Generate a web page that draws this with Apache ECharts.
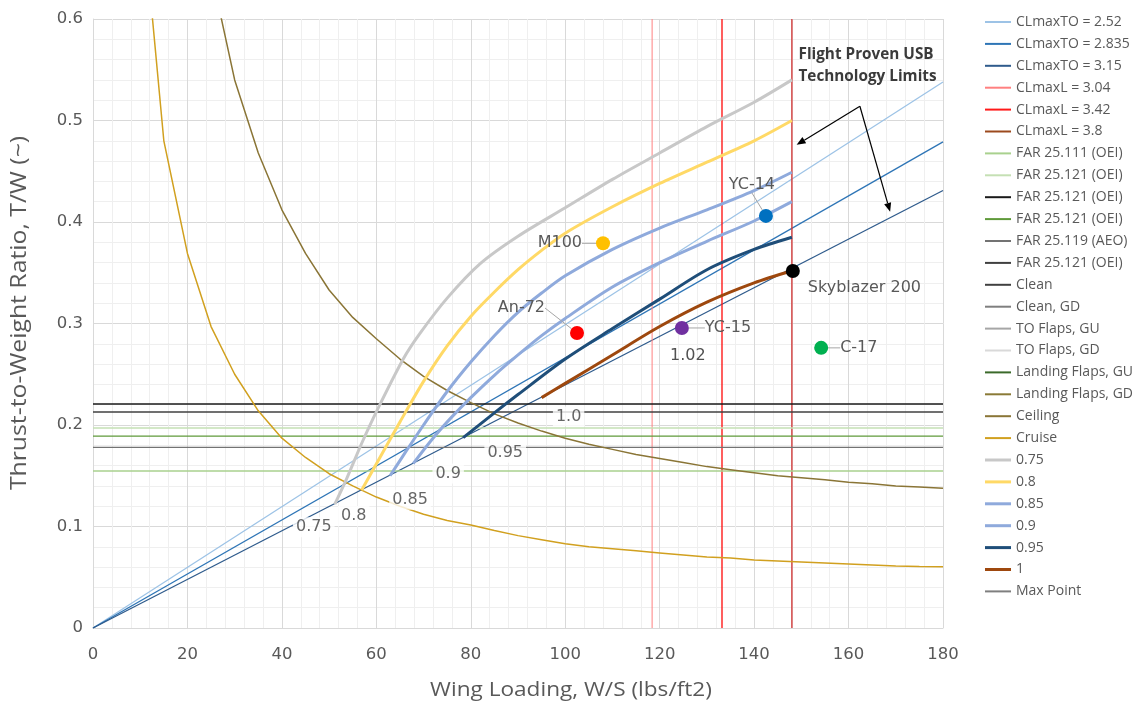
<!DOCTYPE html>
<html>
<head>
<meta charset="utf-8">
<script src="https://cdn.jsdelivr.net/npm/echarts@6/dist/echarts.min.js"></script>
<style>
  html, body { margin: 0; padding: 0; background: #ffffff; }
  #chart { width: 1134px; height: 709px; }
</style>
</head>
<body>
<div id="chart"></div>
<script>
// Constraint diagram: thrust-to-weight ratio against wing loading

// Take-off field length lines (straight through the origin), T/W reached at W/S = 180
const takeoffNames = ['CLmaxTO = 2.52', 'CLmaxTO = 2.835', 'CLmaxTO = 3.15'];
const takeoffTWAt180 = [0.538, 0.479, 0.431];

// Landing field length limits (vertical lines), W/S
const landingNames = ['CLmaxL = 3.04', 'CLmaxL = 3.42', 'CLmaxL = 3.8'];
const landingWS = [118.4, 133.2, 148.0];

// Climb gradient requirements (horizontal lines), T/W
const climbNames = ['FAR 25.111 (OEI)', 'FAR 25.121 (OEI)', 'FAR 25.121 (OEI)',
                    'FAR 25.121 (OEI)', 'FAR 25.119 (AEO)', 'FAR 25.121 (OEI)'];
const climbTW = [0.1547, 0.197, 0.2207, 0.189, 0.178, 0.2128];

// Configurations listed in the key without a plotted line
const configNames = ['Clean', 'Clean, GD', 'TO Flaps, GU', 'TO Flaps, GD',
                     'Landing Flaps, GU', 'Landing Flaps, GD'];

// Service ceiling
const ceilingWS = [25, 30, 35, 40, 45, 50, 55, 60, 65, 70, 75, 80, 85, 90, 95, 100,
                   105, 110, 115, 120, 125, 130, 135, 140, 145, 150, 155, 160, 165, 170, 175, 180];
const ceilingTW = [0.647, 0.54, 0.468, 0.412, 0.369, 0.333, 0.306, 0.285, 0.265, 0.248,
                   0.234, 0.222, 0.211, 0.202, 0.194, 0.187, 0.181, 0.176, 0.171, 0.167,
                   0.163, 0.159, 0.156, 0.153, 0.150, 0.148, 0.146, 0.1435, 0.142, 0.140,
                   0.139, 0.1376];

// Cruise
const cruiseWS = [10, 15, 20, 25, 30, 35, 40, 45, 50, 55, 60, 65, 70, 75, 80, 85, 90, 95,
                  100, 105, 110, 115, 120, 125, 130, 135, 140, 145, 150, 155, 160, 165, 170, 175, 180];
const cruiseTW = [0.73, 0.48, 0.369, 0.297, 0.25, 0.214, 0.187, 0.168, 0.152, 0.140, 0.129,
                  0.120, 0.112, 0.106, 0.1015, 0.096, 0.091, 0.087, 0.083, 0.080, 0.078,
                  0.076, 0.074, 0.072, 0.070, 0.069, 0.067, 0.066, 0.065, 0.064, 0.063,
                  0.062, 0.061, 0.0605, 0.0604];

// USB technology curves, [W/S, T/W]
const machNames = ['0.75', '0.8', '0.85', '0.9', '0.95', '1'];
const machTags  = ['0.75', '0.8', '0.85', '0.9', '0.95', '1.0'];
const usb075 = [[51.2, 0.122], [53.7, 0.147], [57, 0.183], [60, 0.213], [65.7, 0.265], [69.2, 0.29],
                [75, 0.325], [82, 0.359], [90, 0.386], [100, 0.414], [110, 0.442], [120, 0.468],
                [130, 0.494], [140, 0.518], [148, 0.54]];
const usb080 = [[56.9, 0.136], [61, 0.17], [65, 0.203], [70, 0.243], [75, 0.278], [80, 0.307],
                [85, 0.331], [90, 0.353], [95, 0.372], [100, 0.389], [110, 0.415], [120, 0.438],
                [130, 0.459], [140, 0.48], [148, 0.5]];
const usb085 = [[62.9, 0.150], [66, 0.172], [70, 0.2], [75, 0.233], [80, 0.262], [85, 0.288],
                [90, 0.311], [95, 0.330], [100, 0.347], [110, 0.373], [120, 0.394], [130, 0.412],
                [140, 0.431], [148, 0.449]];
const usb090 = [[67.8, 0.162], [72, 0.187], [76, 0.208], [80, 0.227], [85, 0.249], [90, 0.269],
                [95, 0.288], [100, 0.305], [110, 0.336], [120, 0.36], [130, 0.381], [140, 0.401],
                [148, 0.42]];
const usb095 = [[78.4, 0.1875], [85, 0.212], [90, 0.23], [100, 0.265], [110, 0.295], [120, 0.324],
                [130, 0.353], [140, 0.373], [148, 0.385]];
const usb100 = [[95, 0.227], [100, 0.241], [110, 0.269], [120, 0.297], [130, 0.321],
                [140, 0.34], [148, 0.352]];
const machCurves = [usb075, usb080, usb085, usb090, usb095, usb100];

// Reference aircraft
const aircraftNames = ['M100', 'An-72', 'YC-15', 'YC-14', 'Skyblazer 200', 'C-17'];
const aircraftWS = [108, 102.5, 124.7, 142.5, 148.2, 154.2];
const aircraftTW = [0.379, 0.2906, 0.2956, 0.406, 0.3517, 0.276];
const yc15Note = '1.02';

// ---------- styling ----------
const takeoffColors = ['#9dc3e6', '#2e75b6', '#2f5b8c'];
const landingColors = ['#ff8080', '#ff1a1a', '#d03a3a'];
const climbColors = ['#a9d18e', '#c5e0b4', '#1a1a1a', '#5f9a3a', '#737373', '#404040'];
const configColors = ['#404040', '#7f7f7f', '#a6a6a6', '#d9d9d9', '#3b6a2a', '#8a7a36'];
const machColors = ['#c8c8c8', '#ffd966', '#8faadc', '#8faadc', '#1f4e79', '#9e480e'];
const aircraftColors = ['#ffc000', '#ff0000', '#7030a0', '#0070c0', '#000000', '#00b050'];
const aircraftLabelPos = ['left', 'left', 'right', 'top', 'right', 'right'];
const aircraftLabelDist = [5, 5, 16, 5, 5, 12];
// label shifts for the six aircraft, then the note under YC-15
const aircraftShift = [[-9, 0], [-20, -25], [0, 0], [-14, -11], [3, 17], [0, 0], [6, 28]];
const aircraftLeader = [true, true, true, true, false, true];
const machTagOffset = [[-21, 23], [-8, 26], [20, 24], [35, 10], [42, 15], [27, 19]];

const TEXT = '#595959';
const LABEL_FONT = 'DejaVu Sans';
const UI_FONT = 'Open Sans';
const KEY_THIN = 'path://M0,0H26V2H0Z';
const KEY_THICK = 'path://M0,0H26V3H0Z';

// Repeated legend names get trailing spaces so each key entry keeps its own colour
function uniqueNames(names) {
  const seen = {};
  return names.map(n => {
    seen[n] = (seen[n] || 0) + 1;
    return n + ' '.repeat(seen[n] - 1);
  });
}
const climbKeys = uniqueNames(climbNames);

const series = [];
const legendData = [];

function lineSeries(name, data, color, width, extra) {
  return Object.assign({
    name: name,
    type: 'line',
    data: data,
    symbol: 'none',
    showSymbol: false,
    silent: true,
    animation: false,
    lineStyle: { color: color, width: width },
    itemStyle: { color: color },
    z: 2
  }, extra || {});
}
function keyEntry(name, icon, color) {
  const e = { name: name, icon: icon };
  if (color) e.itemStyle = { color: color };
  return e;
}

takeoffNames.forEach((n, i) => {
  series.push(lineSeries(n, [[0, 0], [180, takeoffTWAt180[i]]], takeoffColors[i], 1.3));
  legendData.push(keyEntry(n, KEY_THIN));
});
landingNames.forEach((n, i) => {
  series.push(lineSeries(n, [[landingWS[i], 0], [landingWS[i], 0.6]], landingColors[i], i === 0 ? 1 : 1.4));
  legendData.push(keyEntry(n, KEY_THIN, i === 2 ? '#9c4a1e' : null));
});
climbKeys.forEach((n, i) => {
  series.push(lineSeries(n, [[0, climbTW[i]], [180, climbTW[i]]], climbColors[i], 1.4));
  legendData.push(keyEntry(n, KEY_THIN));
});
configNames.forEach((n, i) => {
  series.push(lineSeries(n, [], configColors[i], 1.4));
  legendData.push(keyEntry(n, KEY_THIN));
});
series.push(lineSeries('Ceiling', ceilingWS.map((x, i) => [x, ceilingTW[i]]), '#8a7536', 1.5));
legendData.push(keyEntry('Ceiling', KEY_THIN));
series.push(lineSeries('Cruise', cruiseWS.map((x, i) => [x, cruiseTW[i]]), '#d1a01f', 1.5));
legendData.push(keyEntry('Cruise', KEY_THIN));
machNames.forEach((n, i) => {
  series.push(lineSeries(n, machCurves[i], machColors[i], 3, { smooth: 0.3, z: 3 }));
  legendData.push(keyEntry(n, KEY_THICK));
});
series.push(lineSeries('Max Point', [], '#7f7f7f', 1.4));
legendData.push(keyEntry('Max Point', KEY_THIN));

// Curve tags sitting at the start of each USB curve
series.push({
  name: 'curve tags',
  type: 'scatter',
  silent: true,
  animation: false,
  z: 6,
  symbolSize: 2,
  itemStyle: { color: 'rgba(0,0,0,0)' },
  data: machCurves.map((c, i) => ({
    value: c[0],
    label: {
      show: true,
      position: 'inside',
      offset: machTagOffset[i],
      formatter: machTags[i],
      fontFamily: LABEL_FONT,
      fontSize: 16,
      color: '#404040',
      backgroundColor: '#ffffff',
      padding: [2, 3]
    }
  }))
});

// Aircraft markers
series.push({
  name: 'aircraft',
  type: 'scatter',
  silent: true,
  animation: false,
  z: 7,
  symbolSize: 14,
  data: aircraftNames.map((n, i) => ({
    name: n,
    value: [aircraftWS[i], aircraftTW[i]],
    itemStyle: { color: aircraftColors[i], opacity: 1 },
    label: {
      show: true,
      formatter: n,
      position: aircraftLabelPos[i],
      distance: aircraftLabelDist[i],
      fontFamily: LABEL_FONT,
      fontSize: 16,
      color: TEXT
    },
    labelLine: { show: aircraftLeader[i], lineStyle: { color: '#a6a6a6', width: 1 } }
  })).concat([{
    name: yc15Note,
    value: [aircraftWS[2], aircraftTW[2]],
    symbolSize: 2,
    itemStyle: { color: 'rgba(0,0,0,0)' },
    label: {
      show: true,
      formatter: yc15Note,
      position: 'inside',
      fontFamily: LABEL_FONT,
      fontSize: 16,
      color: '#262626'
    }
  }]),
  labelLayout: function (p) {
    const s = aircraftShift[p.dataIndex] || [0, 0];
    return { dx: s[0], dy: s[1] };
  }
});

const axisCommon = {
  type: 'value',
  axisTick: { show: false },
  axisLine: { show: true, lineStyle: { color: '#d9d9d9', width: 1 } },
  splitLine: { show: true, lineStyle: { color: '#d9d9d9', width: 1 } },
  minorTick: { show: false, splitNumber: 5 },
  minorSplitLine: { show: true, lineStyle: { color: '#efefef', width: 1 } },
  axisLabel: { fontFamily: LABEL_FONT, fontSize: 16.5, color: TEXT }
};

const chart = echarts.init(document.getElementById('chart'), null, { renderer: 'canvas' });

chart.setOption({
  backgroundColor: '#ffffff',
  animation: false,
  grid: { left: 93, top: 19, width: 850, height: 609, containLabel: false },
  xAxis: Object.assign({}, axisCommon, {
    min: 0, max: 180, interval: 20,
    axisLabel: Object.assign({}, axisCommon.axisLabel, { margin: 18 })
  }),
  yAxis: Object.assign({}, axisCommon, {
    min: 0, max: 0.6, interval: 0.1,
    axisLabel: Object.assign({}, axisCommon.axisLabel, { margin: 10 })
  }),
  legend: {
    orient: 'vertical',
    left: 980,
    top: 10,
    itemWidth: 26,
    itemHeight: 14,
    itemGap: 7.9,
    selectedMode: false,
    textStyle: { fontFamily: UI_FONT, fontSize: 14, lineHeight: 14, color: TEXT },
    data: legendData
  },
  series: series
});

// Axis titles and the technology-limit callout
function arrowGraphics(from, to) {
  const dx = to[0] - from[0], dy = to[1] - from[1];
  const len = Math.sqrt(dx * dx + dy * dy);
  const ux = dx / len, uy = dy / len;
  const headLen = 9, headHalf = 3.6;
  const bx = to[0] - ux * headLen, by = to[1] - uy * headLen;
  return [
    { type: 'polyline', silent: true, z: 20,
      shape: { points: [from, [bx, by]] },
      style: { stroke: '#000000', lineWidth: 1.2, fill: null } },
    { type: 'polygon', silent: true, z: 20,
      shape: { points: [to, [bx - uy * headHalf, by + ux * headHalf], [bx + uy * headHalf, by - ux * headHalf]] },
      style: { fill: '#000000' } }
  ];
}

const calloutHub = chart.convertToPixel({ gridIndex: 0 }, [162.4, 0.514]);
const calloutA = chart.convertToPixel({ gridIndex: 0 }, [149.0, 0.476]);
const calloutB = chart.convertToPixel({ gridIndex: 0 }, [168.8, 0.410]);
const calloutText = chart.convertToPixel({ gridIndex: 0 }, [149.4, 0.576]);

chart.setOption({
  graphic: [
    { type: 'text', silent: true, x: 571, y: 690, scaleX: 1.13,
      style: { text: 'Wing Loading, W/S (lbs/ft2)', x: 0, y: 0, align: 'center', verticalAlign: 'middle',
               fontFamily: UI_FONT, fontSize: 20, fill: TEXT } },
    { type: 'text', silent: true, x: 20, y: 313, rotation: Math.PI / 2, scaleX: 1.18,
      style: { text: 'Thrust-to-Weight Ratio, T/W (~)', x: 0, y: 0, align: 'center', verticalAlign: 'middle',
               fontFamily: UI_FONT, fontSize: 21, fill: TEXT } },
    { type: 'text', silent: true, z: 20,
      style: { text: 'Flight Proven USB\nTechnology Limits', x: calloutText[0], y: calloutText[1],
               align: 'left', verticalAlign: 'top', lineHeight: 22,
               fontFamily: UI_FONT, fontWeight: 'bold', fontSize: 15.3, fill: '#3a3a3a' } }
  ].concat(arrowGraphics(calloutHub, calloutA), arrowGraphics(calloutHub, calloutB))
});
</script>
</body>
</html>
